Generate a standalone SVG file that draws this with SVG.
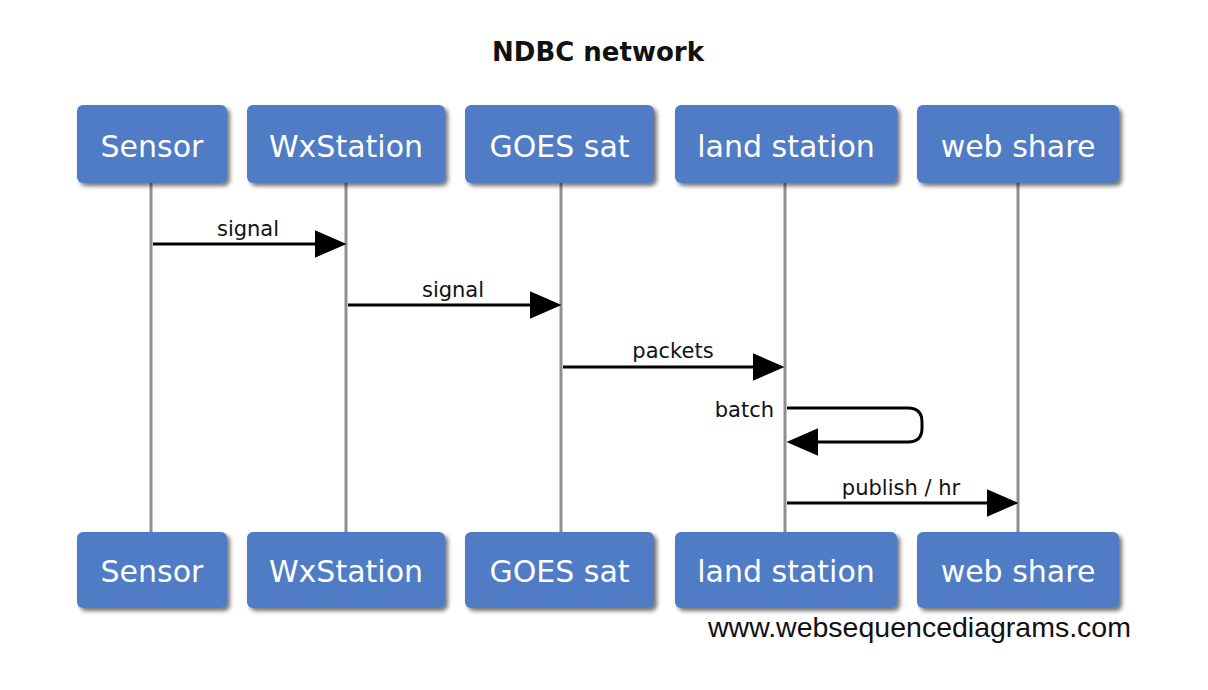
<svg xmlns="http://www.w3.org/2000/svg" width="1208" height="690" viewBox="0 0 1208 690">
<style>
.box{fill:#507bc4;rx:6;ry:6;filter:url(#sh)}
.bt{font-family:"DejaVu Sans",Verdana,sans-serif;font-size:30px;fill:#ffffff;text-anchor:middle}
.life{stroke:#8f8f8f;stroke-width:3;fill:none}
.msg{stroke:#000;stroke-width:3;fill:none;marker-end:url(#ah)}
.lbl{font-family:"DejaVu Sans",Verdana,sans-serif;font-size:21px;fill:#111;text-anchor:middle}
.lbl.end{text-anchor:end}
</style>
<defs>
<filter id="sh" x="-10%" y="-10%" width="130%" height="140%">
<feDropShadow dx="3" dy="3" stdDeviation="2" flood-color="#000" flood-opacity="0.55"/>
</filter>
<marker id="ah" markerUnits="userSpaceOnUse" markerWidth="32" markerHeight="28" viewBox="0 0 30 26" refX="22" refY="13" orient="auto">
<path d="M0,0 L30,13 L0,26 z" fill="#000"/>
</marker>
</defs>
<rect width="1208" height="690" fill="#ffffff"/>
<text x="598" y="61" font-family="DejaVu Sans,Verdana,sans-serif" font-size="26" font-weight="bold" fill="#111" text-anchor="middle">NDBC network</text>
<g id="lifelines">
<line class="life" x1="151" y1="183" x2="151" y2="532"/>
<line class="life" x1="346" y1="183" x2="346" y2="532"/>
<line class="life" x1="561" y1="183" x2="561" y2="532"/>
<line class="life" x1="785" y1="183" x2="785" y2="532"/>
<line class="life" x1="1018" y1="183" x2="1018" y2="532"/>
</g>
<g id="sensor">
<rect class="box" x="77" y="105" width="150" height="78"/>
<text class="bt" x="152" y="157">Sensor</text>
<rect class="box" x="77" y="532" width="150" height="76"/>
<text class="bt" x="152" y="582">Sensor</text>
</g>
<g id="wxstation">
<rect class="box" x="247" y="105" width="198" height="78"/>
<text class="bt" x="346" y="157">WxStation</text>
<rect class="box" x="247" y="532" width="198" height="76"/>
<text class="bt" x="346" y="582">WxStation</text>
</g>
<g id="goes">
<rect class="box" x="465" y="105" width="189" height="78"/>
<text class="bt" x="559.5" y="157">GOES sat</text>
<rect class="box" x="465" y="532" width="189" height="76"/>
<text class="bt" x="559.5" y="582">GOES sat</text>
</g>
<g id="land">
<rect class="box" x="675" y="105" width="222" height="78"/>
<text class="bt" x="786" y="157">land station</text>
<rect class="box" x="675" y="532" width="222" height="76"/>
<text class="bt" x="786" y="582">land station</text>
</g>
<g id="web">
<rect class="box" x="917" y="105" width="202" height="78"/>
<text class="bt" x="1018" y="157">web share</text>
<rect class="box" x="917" y="532" width="202" height="76"/>
<text class="bt" x="1018" y="582">web share</text>
</g>
<g id="connectors">
<line class="msg" x1="153" y1="244" x2="338" y2="244"/>
<text class="lbl" x="248" y="236">signal</text>
<line class="msg" x1="348" y1="305" x2="553" y2="305"/>
<text class="lbl" x="453" y="297">signal</text>
<line class="msg" x1="563" y1="367" x2="776" y2="367"/>
<text class="lbl" x="673" y="358">packets</text>
<path class="msg" d="M787,408 H908 Q922,408 922,422 V428 Q922,442 908,442 H795"/>
<text class="lbl end" x="774" y="417">batch</text>
<line class="msg" x1="787" y1="503" x2="1010" y2="503"/>
<text class="lbl" x="901" y="495">publish / hr</text>
</g>
<text x="708" y="637" font-family="Liberation Sans,Arial,sans-serif" font-size="28.5" fill="#111">www.websequencediagrams.com</text>
</svg>
